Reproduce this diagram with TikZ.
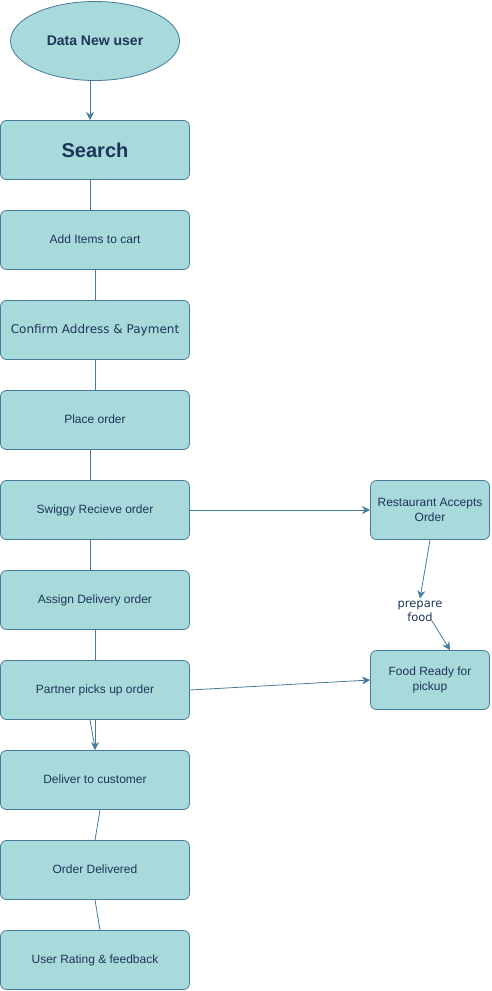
\documentclass[tikz,border=0pt]{standalone}
\usepackage{fontspec}
\setmainfont{Liberation Sans}
\newfontfamily\verdfont{DejaVu Sans}
\usetikzlibrary{arrows.meta,positioning,shapes.geometric}
\definecolor{swfill}{HTML}{A8DADC}
\definecolor{swline}{HTML}{457B9D}
\definecolor{swtext}{HTML}{1D3557}

\begin{document}
\begin{tikzpicture}[x=1pt,y=-1pt,>={Stealth[length=8pt,width=8pt,inset=2.5pt]},
    stepbox/.style={draw=swline,fill=swfill,rounded corners=6pt,minimum width=189pt,minimum height=59pt,
      inner sep=2pt,text=swtext,align=center,line width=.8pt,font=\fontsize{12}{15}\selectfont},
    sidebox/.style={stepbox,minimum width=119pt},
    link/.style={draw=swline,line width=.8pt}]
    \useasboundingbox (0,0) rectangle (491,991);
    % user flow
    \node[ellipse,draw=swline,fill=swfill,line width=.8pt,minimum width=169pt,minimum height=79pt,text=swtext,
      font=\bfseries\fontsize{14}{16}\selectfont] (user) at (95,41) {Data New user};
    \node[stepbox,font=\bfseries\fontsize{20}{22}\selectfont] (search) at (95,150) {Search};
    \foreach \y/\name/\lab in {240/cart/{Add Items to cart},330/confirm/{\verdfont\fontsize{12}{14}\selectfont Confirm Address \& Payment},
      420/place/{Place order},510/swiggy/{Swiggy Recieve order},600/assign/{Assign Delivery order},
      690/partner/{Partner picks up order},780/deliver/{Deliver to customer},870/delivered/{Order Delivered},
      960/rating/{User Rating \& feedback}}
      \node[stepbox] (\name) at (95,\y) {\strut\lab};
    % restaurant side
    \node[sidebox] (restaurant) at (430,510) {Restaurant Accepts\\Order};
    \node[sidebox] (ready) at (430,680) {Food Ready for\\pickup};
    \node[text=swtext,align=center,inner sep=2pt,font=\verdfont\fontsize{11.5}{14}\selectfont] (prep) at (420,611) {prepare\\food};
    \coordinate (prepout) at (432,621);

    \draw[link,->] ([xshift=-5pt]user.south) -- ([xshift=-5pt]search.north);
    \draw[link] ([xshift=-5pt]search.south) -- ([xshift=-5pt]cart.north);
    \draw[link] (cart) -- (confirm);
    \draw[link] (confirm) -- (place);
    \draw[link] ([xshift=-5pt]place.south) -- ([xshift=-5pt]swiggy.north);
    \draw[link] ([xshift=-5pt]swiggy.south) -- ([xshift=-5pt]assign.north);
    \draw[link] (assign) -- (partner);
    \draw[link,->] (partner) -- (deliver);
    \draw[link] ([xshift=-5pt]partner.south) -- ([yshift=2pt]deliver.north);
    \draw[link] ([xshift=5pt]deliver.south) -- (delivered.north);
    \draw[link] (delivered.south) -- ([xshift=5pt]rating.north);
    \draw[link,->] (swiggy) -- (restaurant);
    \draw[link,->] (restaurant.south) -- (prep.north);
    \draw[link,->] (prepout) -- ([xshift=20pt]ready.north);
    \draw[link,->] (partner.east) -- (ready.west);
\end{tikzpicture}
\end{document}
